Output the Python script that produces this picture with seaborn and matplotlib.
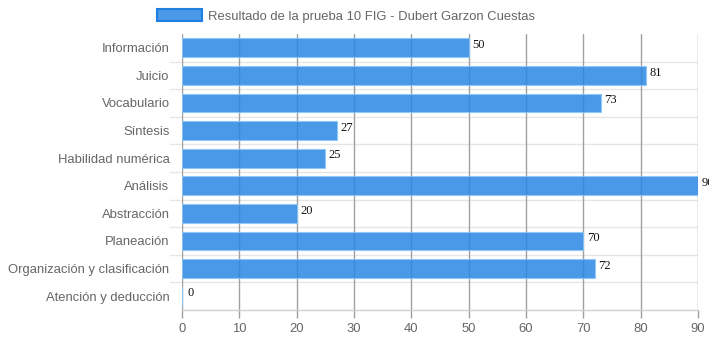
import matplotlib
matplotlib.use("Agg")
import matplotlib.pyplot as plt
from matplotlib.patches import Patch
import seaborn as sns
import pandas as pd

categories = [
    "Información", "Juicio", "Vocabulario", "Síntesis", "Habilidad numérica",
    "Análisis", "Abstracción", "Planeación", "Organización y clasificación",
    "Atención y deducción",
]
scores = [50, 81, 73, 27, 25, 90, 20, 70, 72, 0]
x_ticks = [0, 10, 20, 30, 40, 50, 60, 70, 80, 90]
series_name = "Resultado de la prueba 10 FIG - Dubert Garzon Cuestas"

df = pd.DataFrame({"categoria": categories, "valor": scores})

sns.set_theme(style="white")
plt.rcParams["font.family"] = ["Liberation Sans", "DejaVu Sans"]

W, H, DPI = 709, 341, 100
fig = plt.figure(figsize=(W / DPI, H / DPI), dpi=DPI)
ax = fig.add_axes([182 / W, 1 - 310 / H, (698 - 182) / W, (310 - 34) / H])

bar_rgb = (42 / 255, 134 / 255, 228 / 255)
sns.barplot(data=df, x="valor", y="categoria", orient="h", ax=ax,
            color=bar_rgb, saturation=1, alpha=0.85, width=0.68, zorder=2,
            edgecolor=(0.55, 0.78, 0.98, 0.9), linewidth=0.8)

ax.set_xlim(0, 90)
ax.set_ylim(len(categories) - 0.5, -0.5)
ax.set_xticks(x_ticks)
ax.set_xticklabels([str(t) for t in x_ticks])
ax.set_xlabel("")
ax.set_ylabel("")

# vertical grid (value axis) drawn underneath the bars
for t in x_ticks:
    ax.axvline(t, color="#a0a0a0", lw=1, zorder=1)
# horizontal separators between categories
for i in range(len(categories) - 1):
    ax.axhline(i + 0.5, color="#e6e6e6", lw=1, zorder=0.5)

for s in ["top", "right", "left"]:
    ax.spines[s].set_visible(False)
ax.spines["bottom"].set_color("#d0d0d0")
ax.spines["bottom"].set_linewidth(1)

ax.tick_params(axis="x", length=6, width=1, color="#a0a0a0", pad=3,
               labelsize=9.4, labelcolor="#666666", bottom=True)
ax.tick_params(axis="y", length=0, pad=9, labelsize=9.4, labelcolor="#666666")

# category tick marks between rows, extending left of the axis
for i in range(len(categories) - 1):
    ax.plot([-12 / 516 * 90, 0], [i + 0.5, i + 0.5], color="#e6e6e6", lw=1,
            clip_on=False, zorder=0.5)

# value labels at the end of each bar
for i, v in enumerate(scores):
    ax.annotate(str(v), xy=(v, i), xytext=(2.5 if v else 4, 2),
                textcoords="offset points",
                ha="left", va="center", fontsize=9, color="#111111",
                family=["Liberation Serif", "DejaVu Serif"],
                annotation_clip=False, zorder=3)

handle = Patch(facecolor=(74 / 255, 152 / 255, 232 / 255),
               edgecolor="#1f7fe0", linewidth=1.5)
fig.legend(handles=[handle], labels=[series_name], loc="center",
           bbox_to_anchor=(346 / W, 1 - 16 / H), frameon=False,
           fontsize=9.4, labelcolor="#666666", handlelength=3.4,
           handleheight=1.05, handletextpad=0.45)

fig.savefig("out.png", dpi=DPI)
